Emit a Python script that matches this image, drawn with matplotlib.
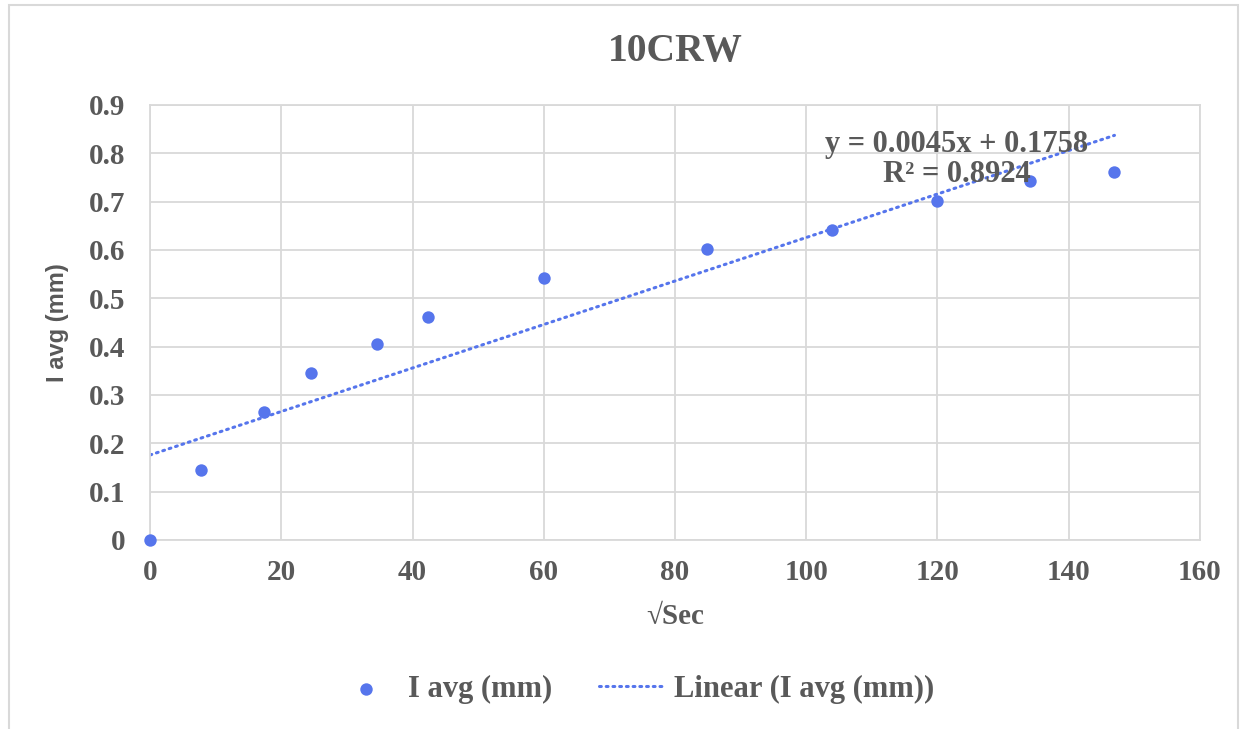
import matplotlib
matplotlib.use("Agg")
import matplotlib.pyplot as plt
import numpy as np
from matplotlib.patches import Rectangle

# data
sqrt_sec = [0, 7.75, 17.32, 24.49, 34.64, 42.43, 60.0, 84.85, 103.92, 120.0, 134.16, 146.97]
i_avg = [0.0, 0.145, 0.265, 0.345, 0.405, 0.462, 0.542, 0.602, 0.642, 0.702, 0.742, 0.762]
slope, intercept = 0.0045, 0.1758
r2 = 0.8924

x_ticks = [0, 20, 40, 60, 80, 100, 120, 140, 160]
y_ticks = [0, 0.1, 0.2, 0.3, 0.4, 0.5, 0.6, 0.7, 0.8, 0.9]
y_tick_labels = ["0", "0.1", "0.2", "0.3", "0.4", "0.5", "0.6", "0.7", "0.8", "0.9"]

BLUE = "#5675EC"
TEXT = "#595959"
GRID = "#D9D9D9"

plt.rcParams["font.family"] = ["Liberation Serif", "DejaVu Serif"]
plt.rcParams["font.weight"] = "bold"

fig = plt.figure(figsize=(12.47, 7.29), dpi=100)
fig.patches.append(Rectangle((0.007, -0.01), 0.986, 1.003, transform=fig.transFigure,
                             fill=False, edgecolor=GRID, linewidth=1.5))
ax = fig.add_axes([0.1203, 0.2593, 0.8420, 0.5967])

xs = np.array(sqrt_sec)
ax.scatter(xs, i_avg, s=80, color=BLUE, zorder=3, label="I avg (mm)", clip_on=False, linewidths=0)
xl = np.array([0, xs.max()])
ax.plot(xl, slope * xl + intercept, linestyle=(0, (0.6, 1.6)), color=BLUE, linewidth=2.2,
        dash_capstyle="round", zorder=2, label="Linear (I avg (mm))")

ax.set_xlim(0, 160)
ax.set_ylim(0, 0.9)
ax.set_xticks(x_ticks)
ax.set_yticks(y_ticks)
ax.set_yticklabels(y_tick_labels)
ax.grid(True, color=GRID, linewidth=1.3)
ax.set_axisbelow(True)
for s in ax.spines.values():
    s.set_color(GRID)
    s.set_linewidth(1.3)
ax.tick_params(length=0, labelsize=21, labelcolor=TEXT, pad=14)
ax.tick_params(axis="y", pad=18)

ax.set_title("10CRW", fontsize=28.5, color=TEXT, fontweight="bold", pad=32)
ax.set_xlabel("√Sec", fontsize=21, color=TEXT, fontweight="bold", labelpad=12)
ax.set_ylabel("I avg (mm)", fontsize=17, color=TEXT, fontweight="bold", labelpad=14,
              family=["Liberation Sans", "DejaVu Sans"])

ax.text(0.768, 0.874, f"y = {slope}x + {intercept}\nR² = {r2}", transform=ax.transAxes,
        ha="center", va="center", fontsize=22, color=TEXT, linespacing=1.05, zorder=4)

fig.legend(loc="center", bbox_to_anchor=(0.508, 0.054), ncol=2, frameon=False,
           labelcolor=TEXT, handlelength=2.2, handletextpad=0.25, columnspacing=1.55,
           prop={"weight": "bold", "size": 22})

fig.savefig("out.png", dpi=100)
